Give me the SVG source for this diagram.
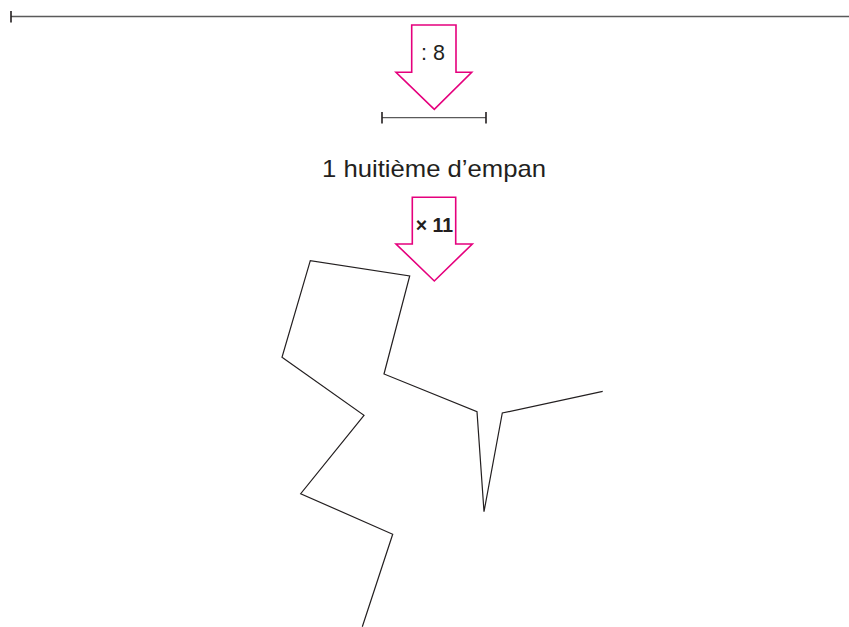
<svg xmlns="http://www.w3.org/2000/svg" width="849" height="627" viewBox="0 0 849 627">
<style>
.ruler{stroke:#5a5a5a;stroke-width:1.3;fill:none}
.tick{stroke:#231f20;stroke-width:1.6;fill:none}
.arrow{fill:#ffffff;stroke:#e5007d;stroke-width:1.6;stroke-linejoin:miter}
.path{fill:none;stroke:#231f20;stroke-width:1.2;stroke-linejoin:miter}
.lbl{font-family:"Liberation Sans",Arial,sans-serif;fill:#231f20;text-anchor:middle}
</style>
<rect width="849" height="627" fill="#ffffff"/>
<g id="empan">
<line class="ruler" x1="11" y1="16.5" x2="849" y2="16.5"/>
<line class="tick" x1="11" y1="11" x2="11" y2="22.5"/>
</g>
<g id="arrow-div8">
<polygon class="arrow" points="411.7,25 456,25 456,72.3 471.7,72.3 434.3,109.3 396,72.3 411.7,72.3"/>
<text class="lbl" x="433" y="60" font-size="21.5">: 8</text>
</g>
<g id="huitieme">
<line class="ruler" x1="382" y1="117.7" x2="486" y2="117.7"/>
<line class="tick" x1="382" y1="112" x2="382" y2="123.5"/>
<line class="tick" x1="486" y1="112" x2="486" y2="123.5"/>
</g>
<g id="label">
<text class="lbl" x="434" y="177" font-size="24" textLength="224" lengthAdjust="spacingAndGlyphs">1 huitième d’empan</text>
</g>
<g id="arrow-x11">
<polygon class="arrow" points="412.3,197.3 455.7,197.3 455.7,244 472.3,244 434.3,281 396,244 412.3,244"/>
<text class="lbl" x="434.5" y="232" font-size="19.5" font-weight="bold">× 11</text>
</g>
<g id="connectors">
<polyline class="path" points="362.3,626.7 392.7,534.3 300.7,493.7 364,415.3 282,357.3 310.3,260.7 409.7,276 384,374 477,411.7 484,511.7 502.3,413 602.7,391.3"/>
</g>
</svg>
